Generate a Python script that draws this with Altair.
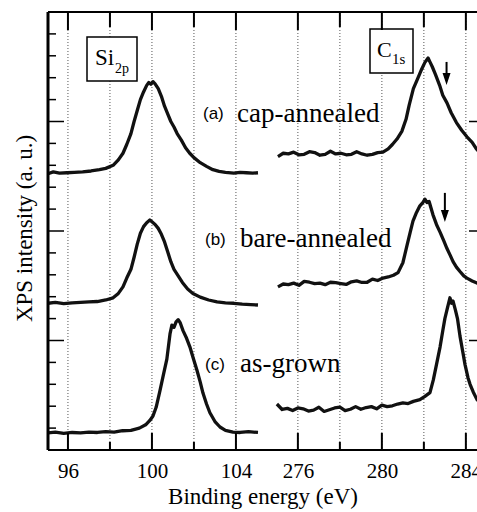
import altair as alt
import pandas as pd

SERIF = "Liberation Serif"
SANS = "Liberation Sans"

# the C1s window is drawn right after the Si2p window on one shared axis
OFFSET = 169.05
X_MIN, X_MAX = 95.05, 115.48
Y_MIN, Y_MAX = 0, 20
W, H = 429, 438

# ---- Si 2p spectra (binding energy eV, intensity a.u.) ----
SI_A_E = [95.05, 95.3, 95.6, 95.95, 96.3, 96.7, 97.1, 97.5, 97.8, 98.15, 98.4, 98.62, 98.8, 99.0, 99.15,
          99.3, 99.45, 99.6, 99.75, 99.85, 99.95, 100.05, 100.15, 100.3, 100.45, 100.6, 100.75, 100.9,
          101.05, 101.2, 101.4, 101.6, 101.8, 102.0, 102.3, 102.6, 102.9, 103.2, 103.5, 103.9, 104.2,
          104.5, 104.8, 105.05]
SI_A_I = [12.62, 12.70, 12.64, 12.66, 12.68, 12.70, 12.74, 12.80, 12.86, 13.00, 13.25, 13.55, 13.95, 14.45,
          15.0, 15.5, 16.0, 16.35, 16.65, 16.78, 16.70, 16.82, 16.72, 16.50, 16.15, 15.70, 15.35, 15.0,
          14.75, 14.45, 14.15, 13.80, 13.55, 13.35, 13.12, 12.95, 12.80, 12.72, 12.68, 12.64, 12.68,
          12.66, 12.64, 12.66]

SI_B_E = [95.05, 95.4, 95.8, 96.2, 96.6, 97.0, 97.4, 97.8, 98.15, 98.4, 98.62, 98.8, 99.0, 99.15, 99.3,
          99.45, 99.6, 99.75, 99.9, 100.0, 100.15, 100.3, 100.45, 100.6, 100.75, 100.9, 101.05, 101.25,
          101.45, 101.7, 101.95, 102.3, 102.7, 103.1, 103.5, 103.9, 104.3, 104.7, 105.05]
SI_B_I = [6.70, 6.74, 6.68, 6.72, 6.74, 6.76, 6.78, 6.85, 6.95, 7.15, 7.45, 7.85, 8.25, 8.8, 9.4,
          9.9, 10.2, 10.38, 10.50, 10.42, 10.30, 10.12, 9.85, 9.50, 9.05, 8.60, 8.25, 7.95,
          7.65, 7.35, 7.15, 6.98, 6.85, 6.76, 6.72, 6.70, 6.66, 6.64, 6.62]

SI_C_E = [95.05, 95.4, 95.8, 96.2, 96.6, 97.0, 97.4, 97.8, 98.2, 98.6, 99.0, 99.4, 99.7, 99.9, 100.05,
          100.2, 100.38, 100.55, 100.71, 100.86, 100.95, 101.05, 101.15, 101.25, 101.35, 101.48, 101.65,
          101.81, 101.95, 102.14, 102.3, 102.43, 102.6, 102.76, 103.0, 103.24, 103.5, 103.86, 104.2,
          104.6, 105.05]
SI_C_I = [0.78, 0.82, 0.76, 0.80, 0.78, 0.82, 0.80, 0.84, 0.82, 0.88, 0.90, 1.00, 1.15, 1.35, 1.55,
          1.95, 2.70, 3.45, 4.15, 5.30, 5.70, 5.60, 5.85, 5.95, 5.80, 5.45, 5.10,
          4.70, 4.25, 3.65, 3.10, 2.60, 2.10, 1.70, 1.30, 1.05, 0.90, 0.82, 0.80,
          0.84, 0.80]

# ---- C 1s spectra ----
C_A_E = [275.05, 275.3, 275.55, 275.8, 276.05, 276.3, 276.55, 276.8, 277.05, 277.3, 277.55, 277.8, 278.05,
         278.3, 278.55, 278.8, 279.05, 279.3, 279.55, 279.8, 280.05, 280.3, 280.5, 280.72, 280.95, 281.15,
         281.3, 281.5, 281.7, 281.9, 282.05, 282.2, 282.3, 282.4, 282.55, 282.75, 282.9, 283.1, 283.3,
         283.55, 283.8, 284.05, 284.3, 284.5, 284.65]
C_A_I = [13.40, 13.55, 13.52, 13.60, 13.48, 13.50, 13.62, 13.58, 13.46, 13.50, 13.64, 13.52, 13.55,
         13.48, 13.50, 13.62, 13.52, 13.46, 13.50, 13.58, 13.60, 13.75, 13.95, 14.20, 14.55, 15.10,
         15.75, 16.50, 16.95, 17.40, 17.70, 17.90, 17.70, 17.50, 17.15, 16.65, 16.20, 15.85, 15.40,
         14.95, 14.60, 14.30, 14.05, 13.75, 13.60]

C_B_E = [275.05, 275.3, 275.55, 275.8, 276.05, 276.3, 276.55, 276.8, 277.05, 277.3, 277.55, 277.8, 278.05,
         278.3, 278.55, 278.8, 279.05, 279.3, 279.55, 279.8, 280.05, 280.3, 280.55, 280.77, 281.0, 281.2,
         281.35, 281.48, 281.65, 281.81, 281.95, 282.05, 282.15, 282.25, 282.43, 282.6, 282.77, 282.95,
         283.1, 283.25, 283.39, 283.55, 283.72, 283.9, 284.05, 284.3, 284.53, 284.65]
C_B_I = [7.45, 7.58, 7.55, 7.62, 7.52, 7.70, 7.66, 7.60, 7.62, 7.55, 7.66, 7.64, 7.60,
         7.56, 7.68, 7.72, 7.65, 7.66, 7.80, 7.74, 7.85, 7.90, 7.98, 8.10, 8.55, 9.35,
         9.95, 10.45, 10.85, 11.15, 11.30, 11.45, 11.30, 11.35, 10.75, 10.30, 9.95, 9.55,
         9.20, 8.90, 8.60, 8.35, 8.15, 7.95, 7.85, 7.72, 7.62, 7.58]

C_C_E = [275.0, 275.25, 275.5, 275.75, 276.0, 276.25, 276.5, 276.75, 277.0, 277.25, 277.5, 277.75, 278.0,
         278.25, 278.5, 278.75, 279.0, 279.25, 279.5, 279.75, 280.0, 280.25, 280.5, 280.75, 281.0, 281.25,
         281.5, 281.81, 282.05, 282.29, 282.45, 282.6, 282.77, 282.91, 283.0, 283.1, 283.24, 283.32,
         283.39, 283.5, 283.6, 283.72, 283.85, 283.96, 284.1, 284.2, 284.35, 284.53, 284.65]
C_C_I = [2.10, 1.85, 1.90, 1.80, 1.92, 1.88, 1.78, 1.82, 1.95, 1.76, 1.84, 1.92, 1.96,
         1.80, 1.86, 1.98, 1.86, 1.94, 1.98, 1.88, 2.05, 1.98, 2.02, 2.10, 2.15, 2.12,
         2.22, 2.30, 2.45, 2.62, 3.20, 3.90, 4.70, 5.50, 6.00, 6.40, 6.95, 6.70,
         6.80, 6.40, 6.00, 5.20, 4.50, 3.90, 3.30, 3.00, 2.65, 2.30, 2.20]

# ---- axis ticks ----
SI_TICKS = [96, 98, 100, 102, 104]
C_TICKS = [276, 278, 280, 282, 284]
MAJOR_X = [96, 100, 104, 276, 280, 284]
Y_MAJOR = [5, 10, 15]
Y_MINOR = [1, 2, 3, 4, 6, 7, 8, 9, 11, 12, 13, 14, 16, 17, 18, 19]

# ---- arrows on the C1s (a), (b) spectra ----
ARROW_E = [283.08, 283.0]
ARROW_TOP = [17.72, 11.74]
ARROW_BOT = [17.15, 10.90]
ARROW_HEAD = [16.94, 10.68]

rows = []
for region, name, es, vs in [("Si", "a", SI_A_E, SI_A_I), ("Si", "b", SI_B_E, SI_B_I),
                             ("Si", "c", SI_C_E, SI_C_I), ("C", "a", C_A_E, C_A_I),
                             ("C", "b", C_B_E, C_B_I), ("C", "c", C_C_E, C_C_I)]:
    for e, v in zip(es, vs):
        rows.append({"region": region, "series": region + name, "E": e, "I": v})
curves = pd.DataFrame(rows)

ticks = pd.DataFrame(
    [{"region": "Si", "E": e, "major": e in MAJOR_X} for e in SI_TICKS]
    + [{"region": "C", "E": e, "major": e in MAJOR_X} for e in C_TICKS]
)
arrows = pd.DataFrame({"region": "C", "E": ARROW_E, "top": ARROW_TOP,
                       "bot": ARROW_BOT, "head": ARROW_HEAD})

XCALC = f"datum.region == 'C' ? datum.E - {OFFSET} : datum.E"
xs = alt.Scale(domain=[X_MIN, X_MAX], nice=False, zero=False)
ys = alt.Scale(domain=[Y_MIN, Y_MAX], nice=False, zero=False)

label_vals = [v for v in MAJOR_X if v < 200] + [round(v - OFFSET, 2) for v in MAJOR_X if v > 200]

# one axis definition per channel, reused by every layer so that they merge cleanly
XAX = alt.Axis(
    values=label_vals,
    labelExpr=f"datum.value > 105 ? format(datum.value + {OFFSET}, 'd') : format(datum.value, 'd')",
    ticks=False, tickSize=0, domain=False, grid=False,
    labelFont=SERIF, labelFontSize=21, labelColor="black", labelPadding=10,
    title="Binding energy (eV)", titleFont=SERIF, titleFontSize=23, titleFontWeight="normal",
    titleColor="black", titleBaseline="alphabetic", titleY=53)
YAX = alt.Axis(
    labels=False, ticks=False, domain=False, grid=False,
    title="XPS intensity (a. u.)", titleFont=SERIF, titleFontSize=23, titleFontWeight="normal",
    titleColor="black", titleBaseline="middle", titleX=-24, titleY=216)


def X(field):
    return alt.X(field, scale=xs, axis=XAX)


def Y(field):
    return alt.Y(field, scale=ys, axis=YAX)


tick_base = alt.Chart(ticks).transform_calculate(xp=XCALC)
grid = tick_base.mark_rule(strokeDash=[1, 2], color="#555", strokeWidth=1).encode(
    x=X("xp:Q"), y=alt.value(0), y2=alt.value(H))

lines = alt.Chart(curves).transform_calculate(xp=XCALC).mark_line(
    color="#111", strokeWidth=3.3, clip=True, strokeJoin="round"
).encode(x=X("xp:Q"), y=Y("I:Q"), detail="series:N")

bot_major = tick_base.transform_filter("datum.major").mark_rule(color="black", strokeWidth=2).encode(
    x=X("xp:Q"), y=alt.value(H), y2=alt.value(H - 17))
bot_minor = tick_base.transform_filter("!datum.major").mark_rule(color="black", strokeWidth=2).encode(
    x=X("xp:Q"), y=alt.value(H), y2=alt.value(H - 8))
top_major = tick_base.transform_filter("datum.major").mark_rule(color="black", strokeWidth=2).encode(
    x=X("xp:Q"), y=alt.value(0), y2=alt.value(18))
top_minor = tick_base.transform_filter("!datum.major").mark_rule(color="black", strokeWidth=2).encode(
    x=X("xp:Q"), y=alt.value(0), y2=alt.value(15))

ymaj = alt.Chart(pd.DataFrame({"I": Y_MAJOR}))
ymin = alt.Chart(pd.DataFrame({"I": Y_MINOR}))
left_major = ymaj.mark_rule(color="black", strokeWidth=1.5).encode(
    y=Y("I:Q"), x=alt.value(0), x2=alt.value(16))
left_minor = ymin.mark_rule(color="black", strokeWidth=1.5).encode(
    y=Y("I:Q"), x=alt.value(0), x2=alt.value(8))
right_major = ymaj.mark_rule(color="black", strokeWidth=1.5).encode(
    y=Y("I:Q"), x=alt.value(W - 8), x2=alt.value(W))

one = alt.Chart(pd.DataFrame({"k": [0]}))
frame_left = one.mark_rule(color="black", strokeWidth=3).encode(
    x=alt.value(0), y=alt.value(0), y2=alt.value(H))
frame_top = one.mark_rule(color="black", strokeWidth=2).encode(
    y=alt.value(0), x=alt.value(0), x2=alt.value(W))
frame_bot = one.mark_rule(color="black", strokeWidth=2).encode(
    y=alt.value(H), x=alt.value(0), x2=alt.value(W))

arrow_base = alt.Chart(arrows).transform_calculate(xp=XCALC)
arrow_shaft = arrow_base.mark_rule(color="black", strokeWidth=2).encode(
    x=X("xp:Q"), y=Y("top:Q"), y2="bot:Q")
arrow_head = arrow_base.mark_point(shape="M-1,-1.5L1,-1.5L0,1.5Z", filled=True, color="black",
                                   size=64, opacity=1).encode(x=X("xp:Q"), y=Y("head:Q"))


def box(x1, x2, y1, y2):
    return one.mark_rect(fill="white", stroke="black", strokeWidth=1.5).encode(
        x=alt.value(x1), x2=alt.value(x2), y=alt.value(y1), y2=alt.value(y2))


def label(text, x, y, font, size):
    return alt.Chart(pd.DataFrame({"t": [text]})).mark_text(
        font=font, fontSize=size, align="left", baseline="alphabetic", color="black"
    ).encode(text="t:N", x=alt.value(x), y=alt.value(y))


texts = [
    label("(a)", 155, 107, SANS, 17), label("cap-annealed", 189, 110, SERIF, 27),
    label("(b)", 157, 233, SANS, 17), label("bare-annealed", 192, 235, SERIF, 27),
    label("(c)", 157, 358, SANS, 17), label("as-grown", 192, 360, SERIF, 27),
    label("Si", 47, 53, SERIF, 23), label("2p", 67, 61, SERIF, 14),
    label("C", 329, 45, SERIF, 22), label("1s", 344, 52, SERIF, 15),
]

chart = alt.layer(
    grid, lines,
    box(39, 89, 25, 69), box(322, 365, 17, 61),
    *texts,
    arrow_shaft, arrow_head,
    bot_major, bot_minor, top_major, top_minor,
    left_major, left_minor, right_major,
    frame_left, frame_top, frame_bot,
).properties(
    width=W, height=H,
    autosize=alt.AutoSizeParams(type="none"),
    padding={"left": 48, "top": 12, "right": 0, "bottom": 62},
    background="white",
).configure_view(stroke=None)

chart.save("out.html", embed_options={"renderer": "svg", "actions": False})
